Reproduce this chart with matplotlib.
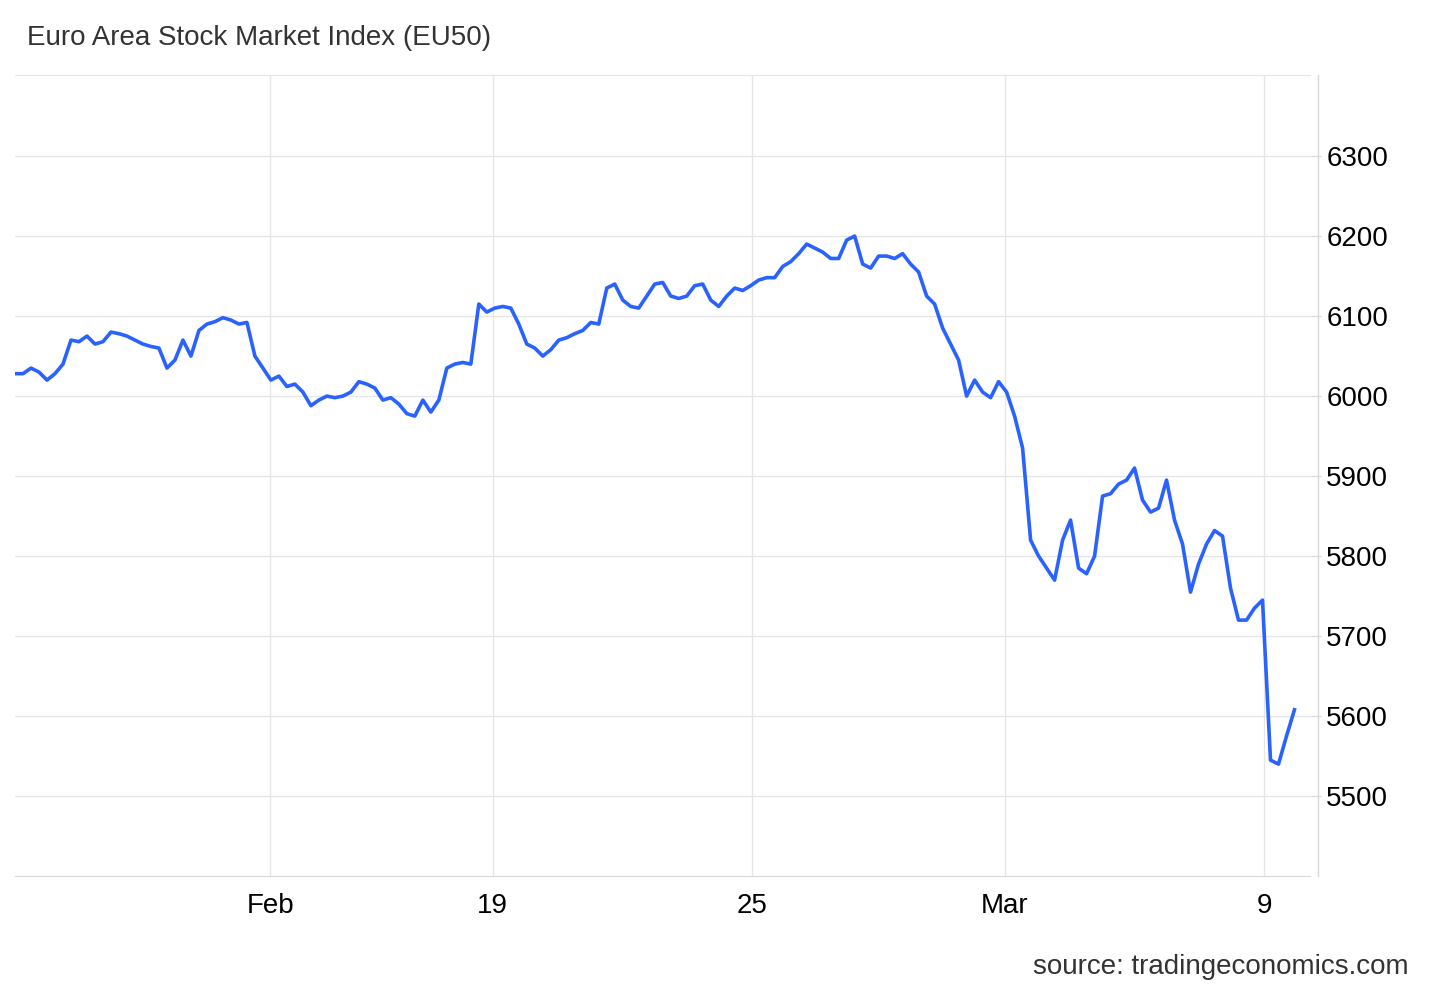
import numpy as np
import matplotlib.pyplot as plt

plt.rcParams['font.family'] = ['Liberation Sans', 'DejaVu Sans']

# index values, evenly spaced samples
values = [6028, 6028, 6035, 6030, 6020, 6028, 6040, 6070, 6068, 6075,
          6065, 6068, 6080, 6078, 6075, 6070, 6065, 6062, 6060, 6035,
          6045, 6070, 6050, 6082, 6090, 6093, 6098, 6095, 6090, 6092,
          6050, 6035, 6020, 6025, 6012, 6015, 6005, 5988, 5995, 6000,
          5998, 6000, 6005, 6018, 6015, 6010, 5995, 5998, 5990, 5978,
          5975, 5995, 5980, 5995, 6035, 6040, 6042, 6040, 6115, 6105,
          6110, 6112, 6110, 6090, 6065, 6060, 6050, 6058, 6070, 6073,
          6078, 6082, 6092, 6090, 6135, 6140, 6120, 6112, 6110, 6125,
          6140, 6142, 6125, 6122, 6125, 6138, 6140, 6120, 6112, 6125,
          6135, 6132, 6138, 6145, 6148, 6148, 6162, 6168, 6178, 6190,
          6185, 6180, 6172, 6172, 6195, 6200, 6165, 6160, 6175, 6175,
          6172, 6178, 6165, 6155, 6125, 6115, 6085, 6065, 6045, 6000,
          6020, 6005, 5998, 6018, 6005, 5975, 5935, 5820, 5800, 5785,
          5770, 5820, 5845, 5785, 5778, 5800, 5875, 5878, 5890, 5895,
          5910, 5870, 5855, 5860, 5895, 5845, 5815, 5755, 5790, 5815,
          5832, 5825, 5760, 5720, 5720, 5735, 5745, 5545, 5540, 5575,
          5608]
tick_pos = [31.9, 59.75, 92.2, 123.75, 156.25]
tick_labels = ['Feb', '19', '25', 'Mar', '9']
y_ticks = [5500, 5600, 5700, 5800, 5900, 6000, 6100, 6200, 6300]

fig = plt.figure(figsize=(14.29, 9.9), dpi=100)
ax = fig.add_axes([0.0105, 0.115, 0.906, 0.809])
ax.plot(np.arange(len(values)), values, color='#2962ff', linewidth=2.6)

ax.set_xlim(0, 161.9)
ax.set_ylim(5400, 6401)
ax.set_xticks(tick_pos)
ax.set_xticklabels(tick_labels, fontsize=20)
ax.set_yticks(y_ticks)
ax.set_yticklabels([str(v) for v in y_ticks], fontsize=20)
ax.yaxis.tick_right()
ax.tick_params(axis='y', length=8, color='#d9d9d9', pad=4)
ax.tick_params(axis='x', length=0, pad=12)
ax.grid(True, color='#e6e6e6', linewidth=1)
for s in ['left', 'right']:
    ax.spines[s].set_visible(False)
ax.spines['bottom'].set_color('#d9d9d9')
ax.spines['top'].set_color('#e6e6e6')
ax.axvline(163.0, color='#d9d9d9', linewidth=1, clip_on=False)

fig.text(0.019, 0.962, 'Euro Area Stock Market Index (EU50)', fontsize=20,
         color='#333333', va='center')
fig.text(0.986, 0.023, 'source: tradingeconomics.com', fontsize=20,
         color='#333333', ha='right', va='center')

fig.savefig('out.png')
